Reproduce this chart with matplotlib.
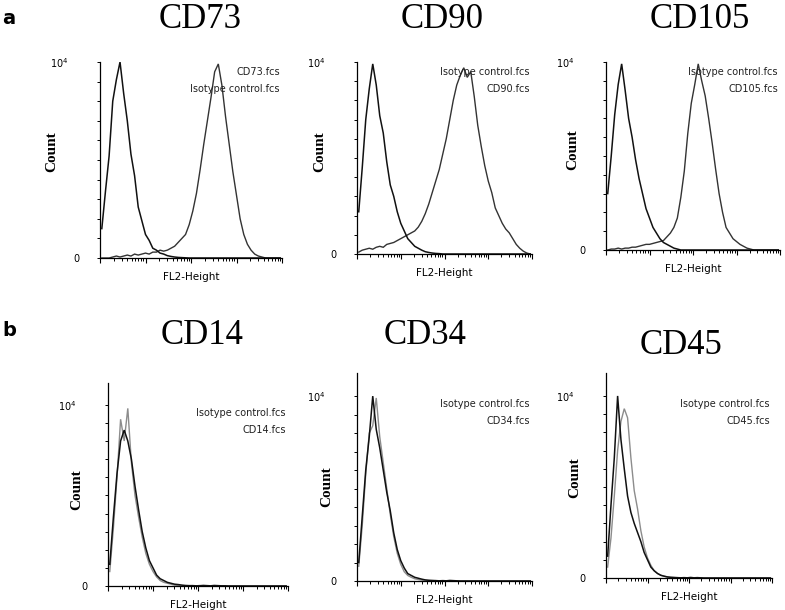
import numpy as np
import matplotlib
matplotlib.use("Agg")
import matplotlib.pyplot as plt
import matplotlib.transforms as mtransforms
from matplotlib.ticker import FixedLocator

# ===== data (counts as % of 10^4, 50 log-spaced channels over 4 decades) =====

PANELS = ["CD73", "CD90", "CD105", "CD14", "CD34", "CD45"]

CD73_ISO = [15, 34, 52, 80, 91, 100, 84, 70, 53, 42, 26, 19, 12, 9, 5, 4, 2.5, 2, 1.2, 0.8,
            0.5, 0.3, 0.2, 0.1, 0, 0, 0, 0, 0, 0, 0, 0, 0, 0, 0, 0, 0, 0, 0, 0,
            0, 0, 0, 0, 0, 0, 0, 0, 0, 0]
CD73_POS = [0, 0, 0, 0.5, 1, 0.5, 1, 1.5, 1, 2, 1.5, 2, 2.5, 2, 3, 3, 4, 3.5, 4, 5,
            6, 8, 10, 12, 17, 24, 33, 45, 58, 70, 82, 95, 99, 88, 72, 58, 44, 32, 20, 12,
            7, 4, 2, 1, 0.5, 0, 0, 0, 0, 0]

CD90_ISO = [22, 45, 70, 86, 99, 88, 72, 63, 48, 36, 30, 22, 16, 12, 8, 6, 4, 3, 2, 1.2,
            0.8, 0.5, 0.3, 0.2, 0, 0, 0, 0, 0, 0, 0, 0, 0, 0, 0, 0, 0, 0, 0, 0,
            0, 0, 0, 0, 0, 0, 0, 0, 0, 0]
CD90_POS = [1, 2, 2.5, 3, 2.5, 3.5, 4, 3.5, 5, 5.5, 6, 7, 8, 9, 10, 11, 12, 14, 17, 21,
            26, 32, 38, 44, 52, 60, 70, 80, 88, 93, 97, 92, 95, 82, 67, 56, 46, 38, 32, 24,
            20, 16, 13, 11, 8, 5, 3, 1.5, 0.5, 0]

CD105_ISO = [30, 50, 72, 88, 99, 85, 70, 60, 48, 38, 30, 22, 17, 12, 9, 6, 4, 3, 2, 1,
             0.5, 0, 0, 0, 0, 0, 0, 0, 0, 0, 0, 0, 0, 0, 0, 0, 0, 0, 0, 0,
             0, 0, 0, 0, 0, 0, 0, 0, 0, 0]
CD105_POS = [0, 0.5, 0.5, 1, 0.5, 1, 1, 1.5, 1.5, 2, 2.5, 3, 3, 3.5, 4, 4.5, 5, 7, 9, 12,
             17, 28, 42, 62, 78, 88, 99, 90, 82, 70, 57, 43, 30, 20, 12, 9, 6, 4.5, 3, 2,
             1, 0.5, 0, 0, 0, 0, 0, 0, 0, 0]

CD14_ISO = [12, 38, 62, 80, 86, 80, 70, 55, 42, 30, 21, 14, 10, 6, 4, 3, 2, 1.5, 1, 0.8,
            0.5, 0.3, 0.2, 0.2, 0.1, 0.1, 0.3, 0.2, 0.1, 0.3, 0.2, 0.1, 0.1, 0, 0, 0, 0, 0, 0, 0,
            0, 0, 0, 0, 0, 0, 0, 0, 0, 0]
CD14_POS = [8, 32, 60, 92, 80, 98, 68, 50, 38, 27, 18, 12, 8, 5, 3, 2, 1.5, 1, 0.5, 0.3,
            0.2, 0.1, 0.1, 0.2, 0.1, 0.3, 0.2, 0.1, 0, 0, 0, 0, 0, 0, 0, 0, 0, 0, 0, 0,
            0, 0, 0, 0, 0, 0, 0, 0, 0, 0]

CD34_ISO = [10, 35, 60, 78, 100, 82, 72, 60, 48, 38, 26, 17, 11, 7, 4, 3, 2, 1.5, 1, 0.6,
            0.4, 0.3, 0.2, 0.1, 0.2, 0.1, 0.3, 0.2, 0.1, 0, 0, 0, 0, 0, 0, 0, 0, 0, 0, 0,
            0, 0, 0, 0, 0, 0, 0, 0, 0, 0]
CD34_POS = [8, 30, 58, 80, 84, 99, 78, 64, 50, 36, 24, 15, 9, 5, 3, 2, 1.2, 0.8, 0.5, 0.3,
            0.2, 0.1, 0.2, 0.1, 0, 0, 0, 0, 0, 0, 0, 0, 0, 0, 0, 0, 0, 0, 0, 0,
            0, 0, 0, 0, 0, 0, 0, 0, 0, 0]

CD45_ISO = [12, 40, 66, 100, 76, 60, 45, 36, 30, 25, 20, 14, 10, 6, 4, 2.5, 1.5, 1, 0.6, 0.4,
            0.3, 0.2, 0.1, 0.2, 0.1, 0.3, 0.1, 0.2, 0.1, 0, 0, 0, 0, 0, 0, 0, 0, 0, 0, 0,
            0, 0, 0, 0, 0, 0, 0, 0, 0, 0]
CD45_POS = [6, 22, 45, 70, 86, 93, 88, 66, 48, 38, 26, 17, 11, 7, 4, 2.5, 1.5, 1, 0.5, 0.3,
            0.2, 0.1, 0, 0, 0, 0, 0, 0, 0, 0, 0, 0, 0, 0, 0, 0, 0, 0, 0, 0,
            0, 0, 0, 0, 0, 0, 0, 0, 0, 0]

SERIES = {
    "CD73": (CD73_ISO, CD73_POS),
    "CD90": (CD90_ISO, CD90_POS),
    "CD105": (CD105_ISO, CD105_POS),
    "CD14": (CD14_ISO, CD14_POS),
    "CD34": (CD34_ISO, CD34_POS),
    "CD45": (CD45_ISO, CD45_POS),
}

# legend order as printed in each panel
LEGEND_LINES = {
    "CD73": ["CD73.fcs", "Isotype control.fcs"],
    "CD90": ["Isotype control.fcs", "CD90.fcs"],
    "CD105": ["Isotype control.fcs", "CD105.fcs"],
    "CD14": ["Isotype control.fcs", "CD14.fcs"],
    "CD34": ["Isotype control.fcs", "CD34.fcs"],
    "CD45": ["Isotype control.fcs", "CD45.fcs"],
}

# ===== layout (pixels of the 785x610 figure) =====
W, H = 785, 610
# box = left, right, top, bottom of the axes; row a curves are both dark
LAYOUT = {
    "CD73": dict(box=(100, 282, 62, 258), ytop=100, title=(200, 20), count=(52, 152), leg=72, c2="#333333"),
    "CD90": dict(box=(357, 532, 62, 254), ytop=100, title=(442, 20), count=(320, 152), leg=72, c2="#333333"),
    "CD105": dict(box=(606, 780, 62, 250), ytop=100, title=(700, 20), count=(573, 150), leg=72, c2="#333333"),
    "CD14": dict(box=(108, 288, 383, 586), ytop=112, title=(202, 335), count=(77, 490), leg=413, c2="#8c8c8c"),
    "CD34": dict(box=(357, 532, 373, 581), ytop=112.5, title=(425, 336), count=(327, 487), leg=404, c2="#8c8c8c"),
    "CD45": dict(box=(606, 772, 373, 578), ytop=112.6, title=(681, 345), count=(575, 478), leg=404, c2="#8c8c8c"),
}

EDGES = np.logspace(0, 4, 51)
CENTERS = np.sqrt(EDGES[:-1] * EDGES[1:])
MAJOR_X = [1, 10, 100, 1000, 10000]
MINOR_X = [k * 10 ** d for d in range(4) for k in range(2, 10)]


def fx(x):
    return x / W


def fy(y):
    return 1 - y / H


def draw_panel(fig, name):
    lay = LAYOUT[name]
    l, r, t, b = lay["box"]
    ax = fig.add_axes([fx(l), fy(b), (r - l) / W, (b - t) / H])
    iso, pos = SERIES[name]

    ax.plot(CENTERS, pos, color=lay["c2"], lw=1.0, solid_joinstyle="miter")
    ax.plot(CENTERS, iso, color="#111111", lw=1.1, solid_joinstyle="miter")

    ax.set_xscale("log")
    ax.set_xlim(1, 1e4)
    ax.set_ylim(0, lay["ytop"])
    ax.xaxis.set_major_locator(FixedLocator(MAJOR_X))
    ax.xaxis.set_minor_locator(FixedLocator(MINOR_X))
    ax.set_xticklabels([], minor=True)
    ax.set_xticklabels([])
    ax.set_yticks([0, 100])
    ax.set_yticklabels(["0", r"$10^4$"], fontsize=7)
    ax.set_yticks(np.arange(10, 100, 10), minor=True)
    ax.tick_params(axis="y", which="both", direction="out", length=2.5, width=0.7, pad=12)
    ax.tick_params(axis="x", which="major", direction="out", length=3.5, width=0.8)
    ax.tick_params(axis="x", which="minor", direction="out", length=2.2, width=0.7)
    # 10^4 label sits a bit further left than the 0
    shift = mtransforms.ScaledTranslation(-8 / 72, 0, fig.dpi_scale_trans)
    lab = ax.get_yticklabels()[1]
    lab.set_transform(lab.get_transform() + shift)

    for s in ["top", "right"]:
        ax.spines[s].set_visible(False)
    for s in ["left", "bottom"]:
        ax.spines[s].set_linewidth(0.9)

    ax.set_xlabel("FL2-Height", fontsize=7.5, labelpad=3)

    # legend text, right aligned
    for i, txt in enumerate(LEGEND_LINES[name]):
        fig.text(fx(r - 2), fy(lay["leg"] + i * 17), txt, fontsize=7,
                 ha="right", va="center", color="#222222")

    fig.text(fx(lay["title"][0]), fy(lay["title"][1]), name,
             family="Liberation Serif", fontsize=25, ha="center", va="center")
    fig.text(fx(lay["count"][0]), fy(lay["count"][1]), "Count",
             family="Liberation Serif", fontweight="bold", fontsize=11,
             rotation=90, ha="center", va="center")
    return ax


def main():
    fig = plt.figure(figsize=(W / 100, H / 100), dpi=100)
    for name in PANELS:
        draw_panel(fig, name)

    fig.text(fx(2), fy(18), "a", fontsize=14, fontweight="bold", ha="left", va="center")
    fig.text(fx(2), fy(330), "b", fontsize=14, fontweight="bold", ha="left", va="center")

    fig.savefig("out.png", dpi=100)


if __name__ == "__main__":
    main()
